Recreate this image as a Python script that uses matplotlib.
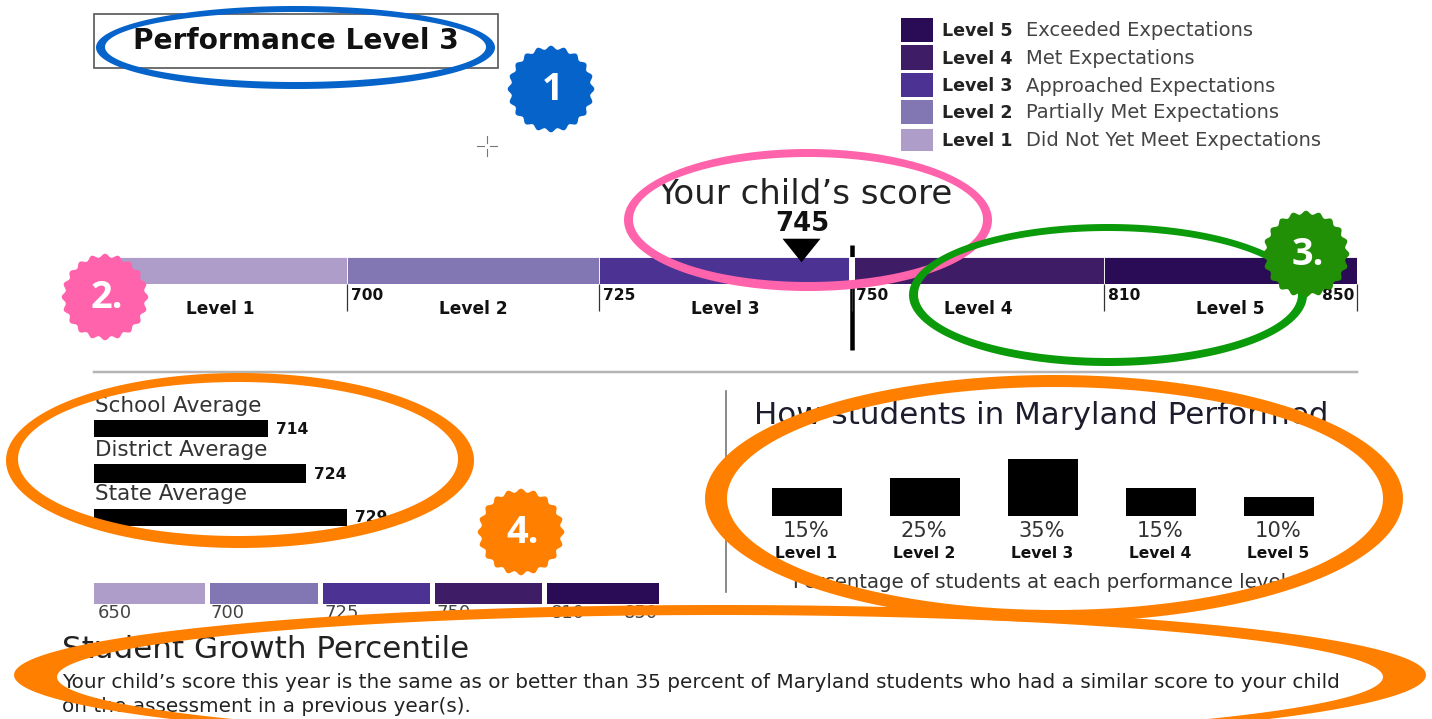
import numpy as np
import matplotlib
matplotlib.use("Agg")
import matplotlib.pyplot as plt
from matplotlib.patches import PathPatch, Polygon, Rectangle
from matplotlib.path import Path

plt.rcParams["font.family"] = ["DejaVu Sans"]

W, H = 1432, 719

level_names = ["Level 1", "Level 2", "Level 3", "Level 4", "Level 5"]
level_descriptions = [
    "Did Not Yet Meet Expectations",
    "Partially Met Expectations",
    "Approached Expectations",
    "Met Expectations",
    "Exceeded Expectations",
]
level_colors = ["#AF9DC9", "#8276B3", "#4C3292", "#3E1D66", "#2A0B55"]
score_breaks = [650, 700, 725, 750, 810, 850]
child_score = 745

average_names = ["School Average", "District Average", "State Average"]
average_scores = [714, 724, 729]
# drawn bar lengths (not proportional to the scores)
average_lengths = [174, 212, 253]

maryland_pct = [15, 25, 35, 15, 10]
# drawn bar heights
maryland_heights = [28, 38, 57, 28, 19]

small_scale_lengths = [111, 108, 107, 107, 112]

fig = plt.figure(figsize=(W / 100, H / 100), dpi=100, facecolor="white")


def px_axes(x0, y0, x1, y1, zorder=1):
    ax = fig.add_axes([x0 / W, 1 - y1 / H, (x1 - x0) / W, (y1 - y0) / H], zorder=zorder)
    ax.patch.set_alpha(0)
    for s in ax.spines.values():
        s.set_visible(False)
    return ax


def pt(px):
    return px * 0.72


# page layer, in pixels
page = px_axes(0, 0, W, H, zorder=0)
page.set_xlim(0, W)
page.set_ylim(H, 0)
page.axis("off")


def label(x, y, s, px, weight="normal", ha="left", color="#222222"):
    page.text(x, y, s, fontsize=pt(px), fontweight=weight, ha=ha, va="center", color=color)


page.add_patch(Rectangle((94, 14), 404, 54, fill=False, ec="#555555", lw=1.2))
label(296, 41, "Performance Level 3", 28, weight="bold", ha="center", color="#111111")

# crosshair cursor
page.plot([477, 484], [146, 146], color="#777777", lw=0.8)
page.plot([490, 497], [146, 146], color="#777777", lw=0.8)
page.plot([487, 487], [136, 143], color="#777777", lw=0.8)
page.plot([487, 487], [149, 156], color="#777777", lw=0.8)

# legend
legend_top = [18, 45, 73, 100, 129]
legend_bottom = [42, 70, 97, 124, 151]
for i in range(5):
    k = 4 - i
    page.add_patch(Rectangle((901, legend_top[i]), 32, legend_bottom[i] - legend_top[i],
                             fc=level_colors[k], ec="none"))
    yc = (legend_top[i] + legend_bottom[i]) / 2 + 1
    label(942, yc, level_names[k], 17.5, weight="bold")
    label(1026, yc, level_descriptions[k], 19.5, color="#444444")

label(805, 195, "Your child\u2019s score", 34, ha="center")
label(802, 224, str(child_score), 26, weight="bold", ha="center", color="#111111")

# score scale
bar_ax = px_axes(94, 257, 1357, 284)
idx = np.arange(5)
bar_ax.bar(idx, [1] * 5, width=1, align="edge", color=level_colors, ec="white", lw=0.6)
bar_ax.set_xlim(0, 5)
bar_ax.set_ylim(0, 1)
bar_ax.set_yticks([])
bar_ax.set_xticks(np.arange(6))
bar_ax.set_xticklabels([])
bar_ax.tick_params(axis="x", length=pt(27), width=0.9, color="#333333")
score_pos = np.interp(child_score, score_breaks, np.arange(6))
triangle = Path([(-0.5, 0.31), (0.5, 0.31), (0, -0.31), (-0.5, 0.31)])
bar_ax.plot([score_pos], [1.26], marker=triangle, ms=pt(38), color="black", clip_on=False,
            markeredgewidth=0)

for i, b in enumerate(score_breaks):
    x = 94 + i * 252.6
    if i == 0:
        continue  # sits behind the badge
    if i == 5:
        label(x - 3, 295, str(b), 15.5, weight="bold", ha="right", color="#111111")
    else:
        label(x + 4, 295, str(b), 15.5, weight="bold", color="#111111")
for i, name in enumerate(level_names):
    label(94 + (i + 0.5) * 252.6, 309, name, 17, weight="bold", ha="center", color="#111111")

# cut score line, white where it crosses the bar
page.plot([852, 852], [245, 350], color="black", lw=pt(4.5), solid_capstyle="butt")
mark = px_axes(849, 257, 855, 284, zorder=2)
mark.set_xticks([])
mark.set_yticks([])
mark.set_facecolor("white")
mark.patch.set_alpha(1)

page.plot([94, 1357], [372, 372], color="#B5B5B5", lw=pt(2.5))

# averages
avg_y = [428.5, 473.5, 517]
avg_label_y = [406, 450, 494]
avg_thick = [17, 19, 17]
avg_ax = px_axes(94, 400, 500, 540)
avg_ax.set_xlim(0, 406)
avg_ax.set_ylim(540, 400)
avg_ax.barh(avg_y, average_lengths, height=avg_thick, color="black")
avg_ax.set_xticks([])
avg_ax.set_yticks([])
for i, name in enumerate(average_names):
    label(95, avg_label_y[i], name, 21.5, color="#333333")
    label(94 + average_lengths[i] + 8, avg_y[i] + 1, str(average_scores[i]), 15.5, weight="bold", color="#111111")

# small colour scale
small_ax = px_axes(94, 583, 662, 604)
small_ax.set_xlim(0, 568)
small_ax.set_ylim(0, 1)
small_left = np.cumsum([0] + [l + 5 for l in small_scale_lengths[:-1]])
small_ax.barh([0.5] * 5, small_scale_lengths, height=1, left=small_left, color=level_colors)
small_ax.set_xticks([])
small_ax.set_yticks([])
small_label_x = [98, 211, 325, 436, 551, 624]
for x, b in zip(small_label_x, score_breaks):
    label(x, 613, str(b), 18, color="#444444")

# maryland panel
page.plot([726, 726], [391, 592], color="#777777", lw=1.2)
label(754, 415, "How students in Maryland Performed", 31, color="#1c1c2c")
md_ax = px_axes(748, 450, 1338, 516)
md_ax.set_xlim(0, 5)
md_ax.set_ylim(0, 66)
md_ax.bar(idx + 0.5, maryland_heights, width=0.585, color="black")
md_ax.set_xticks([])
md_ax.set_yticks([])
for i in range(5):
    xc = 748 + (i + 0.5) * 118
    label(xc - 1, 531, f"{maryland_pct[i]}%", 21, ha="center", color="#333333")
    label(xc - 1, 554, level_names[i], 15.5, weight="bold", ha="center", color="#111111")
label(1040, 583, "Percentage of students at each performance level", 19.8, ha="center", color="#333333")

label(62, 650, "Student Growth Percentile", 31, color="#222222")
label(62, 682, "Your child\u2019s score this year is the same as or better than 35 percent of Maryland students who had a similar score to your child",
      20)
label(62, 707, "on the assessment in a previous year(s).", 20)

# hand drawn annotations on top
notes = px_axes(0, 0, W, H, zorder=5)
notes.set_xlim(0, W)
notes.set_ylim(H, 0)
notes.axis("off")


def ellipse_pts(cx, cy, a, b, reverse=False):
    t = np.linspace(0, 2 * np.pi, 240)
    if reverse:
        t = t[::-1]
    return np.column_stack([cx + a * np.cos(t), cy + b * np.sin(t)])


def ring(outer, inner, color):
    # outer and inner given as x0, y0, x1, y1
    ox0, oy0, ox1, oy1 = outer
    ix0, iy0, ix1, iy1 = inner
    p1 = Path(ellipse_pts((ox0 + ox1) / 2, (oy0 + oy1) / 2, (ox1 - ox0) / 2, (oy1 - oy0) / 2))
    p2 = Path(ellipse_pts((ix0 + ix1) / 2, (iy0 + iy1) / 2, (ix1 - ix0) / 2, (iy1 - iy0) / 2, reverse=True))
    notes.add_patch(PathPatch(Path.make_compound_path(p1, p2), fc=color, ec="none"))


def badge(cx, cy, text, color):
    t = np.linspace(0, 2 * np.pi, 400)
    r = 41.5 + 1.8 * np.cos(20 * t)
    notes.add_patch(Polygon(np.column_stack([cx + r * np.cos(t), cy + r * np.sin(t)]), fc=color, ec="none"))
    notes.text(cx + 2, cy + 1, text, color="white", fontsize=pt(38), fontweight="bold", ha="center", va="center",
               family="Open Sans")


ring((96, 6, 495, 89), (105, 12, 486, 82), "#0563C9")
ring((624, 149, 992, 291), (633, 157, 983, 282), "#FF63AC")
ring((909, 224, 1307, 366), (918, 231, 1298, 358), "#0A9A0A")
ring((6, 373, 474, 548), (18, 382, 458, 536), "#FF8000")
ring((705, 375, 1403, 622), (727, 387, 1383, 610), "#FF8000")
ring((14, 605, 1426, 745), (57, 615, 1383, 739), "#FF8000")

badge(551, 89, "1", "#0563C9")
badge(105, 297, "2.", "#FF63AC")
badge(1306, 254, "3.", "#229006")
badge(521, 532, "4.", "#FF8000")

fig.savefig("out.png", dpi=100, facecolor="white")
plt.close()
